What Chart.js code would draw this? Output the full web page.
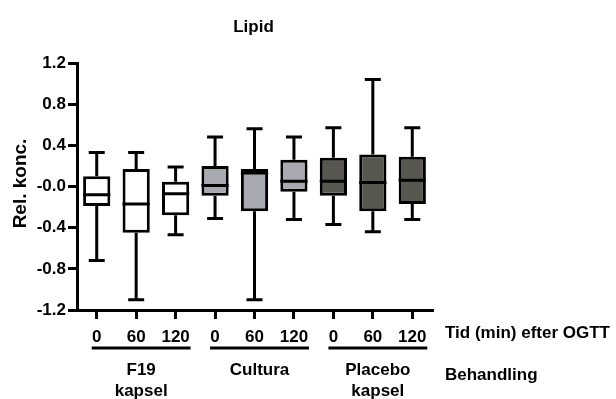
<!DOCTYPE html>
<html>
<head>
<meta charset="utf-8">
<script src="https://cdn.jsdelivr.net/npm/chart.js@4/dist/chart.umd.min.js"></script>
<style>
  html, body { margin: 0; padding: 0; background: #fff; }
  #wrap { width: 616px; height: 399px; }
</style>
</head>
<body>
<div id="wrap"><canvas id="lipidChart" width="616" height="399"></canvas></div>
<script>
const ctx = document.getElementById('lipidChart').getContext('2d');

// data
const tider = ['0', '60', '120', '0', '60', '120', '0', '60', '120'];
const grupper = [['F19', 'kapsel'], ['Cultura'], ['Placebo', 'kapsel']];
const whiskerMin = [-0.72, -1.10, -0.47, -0.31, -1.10, -0.32, -0.37, -0.44, -0.32];
const q1 = [-0.19, -0.45, -0.28, -0.09, -0.24, -0.05, -0.09, -0.24, -0.17];
const median = [-0.08, -0.17, -0.07, 0.01, 0.13, 0.05, 0.05, 0.04, 0.06];
const q3 = [0.10, 0.17, 0.045, 0.20, 0.17, 0.26, 0.28, 0.31, 0.29];
const whiskerMax = [0.33, 0.33, 0.19, 0.48, 0.56, 0.48, 0.57, 1.04, 0.57];
const yTicks = [-1.2, -0.8, -0.4, 0, 0.4, 0.8, 1.2];
const yTickLabels = ['-1.2', '-0.8', '-0.4', '-0.0', '0.4', '0.8', '1.2'];

const farver = ['#ffffff', '#ffffff', '#ffffff', '#a9a9b1', '#a9a9b1', '#a9a9b1', '#57574f', '#57574f', '#57574f'];
const fontFam = '"Liberation Sans", Arial, sans-serif';

const boxData = q1.map((v, i) => [v, q3[i]]);

const boxplotPlugin = {
    id: 'boxplotExtras',
    afterDatasetsDraw(chart) {
        const c = chart.ctx;
        const xs = chart.scales.x;
        const ys = chart.scales.y;
        const meta = chart.getDatasetMeta(0);
        c.save();
        c.strokeStyle = '#000';
        c.lineWidth = 3;
        c.lineCap = 'butt';
        for (let i = 0; i < tider.length; i++) {
            const x = xs.getPixelForValue(i);
            const w = meta.data[i].width;
            const capW = 8;
            // whiskers
            c.beginPath();
            c.moveTo(x, ys.getPixelForValue(q3[i]));
            c.lineTo(x, ys.getPixelForValue(whiskerMax[i]));
            c.moveTo(x, ys.getPixelForValue(q1[i]));
            c.lineTo(x, ys.getPixelForValue(whiskerMin[i]));
            c.moveTo(x - capW, ys.getPixelForValue(whiskerMax[i]));
            c.lineTo(x + capW, ys.getPixelForValue(whiskerMax[i]));
            c.moveTo(x - capW, ys.getPixelForValue(whiskerMin[i]));
            c.lineTo(x + capW, ys.getPixelForValue(whiskerMin[i]));
            // median
            c.moveTo(x - w / 2, ys.getPixelForValue(median[i]));
            c.lineTo(x + w / 2, ys.getPixelForValue(median[i]));
            c.stroke();
        }
        c.restore();
    },
    afterDraw(chart) {
        const c = chart.ctx;
        const xs = chart.scales.x;
        const area = chart.chartArea;
        c.save();
        c.fillStyle = '#000';
        c.strokeStyle = '#000';

        // title
        c.font = 'bold 17px ' + fontFam;
        c.textAlign = 'center';
        c.textBaseline = 'middle';
        c.fillText('Lipid', (area.left + area.right) / 2 - 1, 27);

        // y title
        c.save();
        c.translate(21, (area.top + area.bottom) / 2 - 3);
        c.rotate(-Math.PI / 2);
        c.font = 'bold 19px ' + fontFam;
        c.fillText('Rel. konc.', 0, 0);
        c.restore();

        // group lines and labels
        c.lineWidth = 3;
        c.font = 'bold 17px ' + fontFam;
        grupper.forEach((g, gi) => {
            const x0 = xs.getPixelForValue(gi * 3) - 5;
            const x1 = xs.getPixelForValue(gi * 3 + 2) + 15;
            c.beginPath();
            c.moveTo(x0, 348);
            c.lineTo(x1, 348);
            c.stroke();
            g.forEach((txt, li) => {
                c.fillText(txt, (x0 + x1) / 2, 370 + li * 21);
            });
        });

        // right side labels
        c.textAlign = 'left';
        c.fillText('Tid (min) efter OGTT', 445, 333);
        c.fillText('Behandling', 445, 375);
        c.restore();
    }
};

const lipidChart = new Chart(ctx, {
    type: 'bar',
    data: {
        labels: tider,
        datasets: [{
            data: boxData,
            backgroundColor: farver,
            borderColor: '#000',
            borderWidth: 3,
            borderSkipped: false,
            categoryPercentage: 1,
            barPercentage: 0.69
        }]
    },
    options: {
        responsive: false,
        animation: false,
        layout: {
            padding: { top: 63, right: 184, bottom: 0, left: 0 }
        },
        plugins: {
            legend: { display: false },
            tooltip: { enabled: false }
        },
        scales: {
            x: {
                offset: true,
                grid: {
                    offset: false,
                    drawOnChartArea: false,
                    drawTicks: true,
                    tickLength: 9,
                    color: '#000',
                    lineWidth: 3
                },
                border: { display: true, color: '#000', width: 3 },
                ticks: {
                    color: '#000',
                    padding: 8,
                    maxRotation: 0,
                    autoSkip: false,
                    font: { family: fontFam, size: 17, weight: 'bold' }
                },
                afterFit(scale) { scale.height = 89; }
            },
            y: {
                min: -1.2,
                max: 1.2,
                grid: {
                    drawOnChartArea: false,
                    drawTicks: true,
                    tickLength: 9,
                    color: '#000',
                    lineWidth: 3
                },
                border: { display: true, color: '#000', width: 3 },
                ticks: {
                    color: '#000',
                    padding: 2,
                    font: { family: fontFam, size: 17, weight: 'bold' },
                    callback: (v, i) => yTickLabels[i]
                },
                afterBuildTicks(scale) {
                    scale.ticks = yTicks.map(v => ({ value: v }));
                },
                afterFit(scale) { scale.width = 77; }
            }
        }
    },
    plugins: [boxplotPlugin]
});
</script>
</body>
</html>
